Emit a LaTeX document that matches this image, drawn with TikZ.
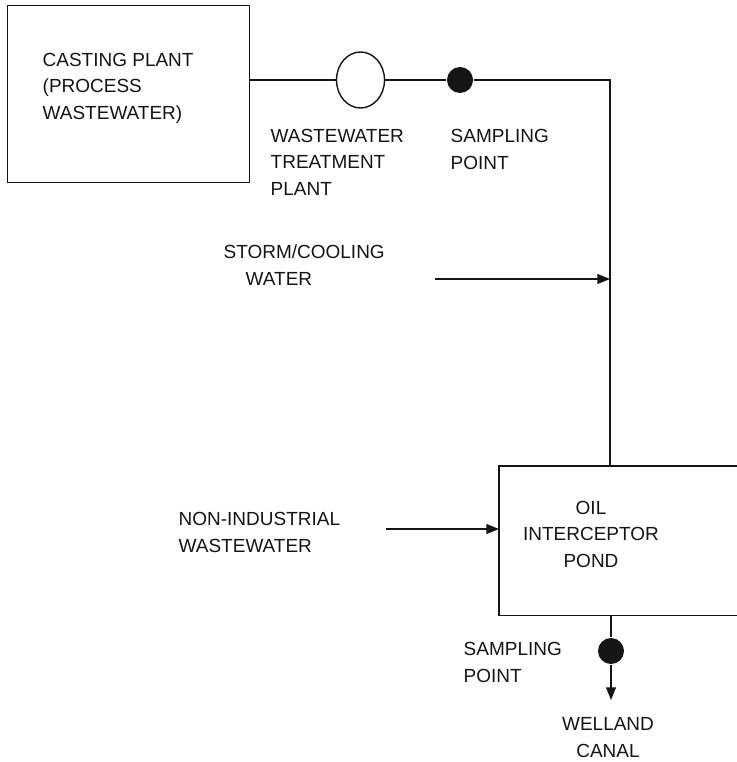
\documentclass[tikz,border=0pt]{standalone}
\usepackage{fontspec}
\setmainfont{Liberation Sans}
\usetikzlibrary{positioning, arrows.meta, shapes.geometric}
\definecolor{fInk}{HTML}{151515}

\begin{document}
\begin{tikzpicture}[x=0.025cm, y=-0.025cm, >={Triangle[length=9pt,width=7pt]}, line width=1pt]
  \tikzset{lbl/.style={font=\fontsize{13.5}{18.5}\selectfont, text=fInk, inner sep=0pt, align=left, anchor=base west}}
  \useasboundingbox (0,0) rectangle (736,762);
  % boxes and treatment units (labels sit on their last baseline)
  \node[draw=fInk, minimum width=6.05cm, minimum height=4.425cm, inner sep=0pt, anchor=north west] (cast) at (7,5) {};
  \node[lbl] (castTxt) at (42,119) {CASTING PLANT\\(PROCESS\\WASTEWATER)};
  \node[ellipse, draw=fInk, minimum width=1.2cm, minimum height=1.4cm, inner sep=0pt] (wwtp) at (360.5,80) {};
  \node[circle, fill=fInk, minimum size=0.65cm, inner sep=0pt] (sp1) at (460,80) {};
  \node[minimum width=5.925cm, minimum height=3.7cm, inner sep=0pt, anchor=north west] (oil) at (499,466) {};
  \draw[fInk] (oil.north east) -- (oil.north west) -- (oil.south west) -- (oil.south east);
  \node[lbl, align=center, anchor=base] (oilTxt) at (591,567) {OIL\\INTERCEPTOR\\POND};
  \node[circle, fill=fInk, minimum size=0.65cm, inner sep=0pt] (sp2) at (611,651) {};
  \coordinate (bend) at (610,80);
  \coordinate (stormIn) at (435,279);
  \coordinate (nonIn) at (386,529);
  \coordinate (canal) at (611,700);
  % flow lines
  \draw[fInk] (cast.east |- wwtp.west) -- (wwtp.west);
  \draw[fInk] (wwtp) -- (sp1) -- (bend) -- (oil.north -| bend);
  \draw[->, fInk] (stormIn) -- (stormIn -| bend);
  \draw[->, fInk] (nonIn) -- (nonIn -| oil.west);
  \draw[fInk] (oil.south -| sp2) -- (sp2);
  \draw[->, fInk] (sp2) -- (canal);
  % labels
  \node[lbl] (wwtpLbl) at (270,195) {WASTEWATER\\TREATMENT\\PLANT};
  \node[lbl] (sp1Lbl) at (450,169) {SAMPLING\\POINT};
  \node[lbl] (stormLbl) at (223,285) {STORM/COOLING\\\hspace*{0.55cm}WATER};
  \node[lbl] (nonLbl) at (178,552) {NON-INDUSTRIAL\\WASTEWATER};
  \node[lbl] (sp2Lbl) at (463,682) {SAMPLING\\POINT};
  \node[lbl, align=center, anchor=base] (canalLbl) at (608,757) {WELLAND\\CANAL};
\end{tikzpicture}
\end{document}
